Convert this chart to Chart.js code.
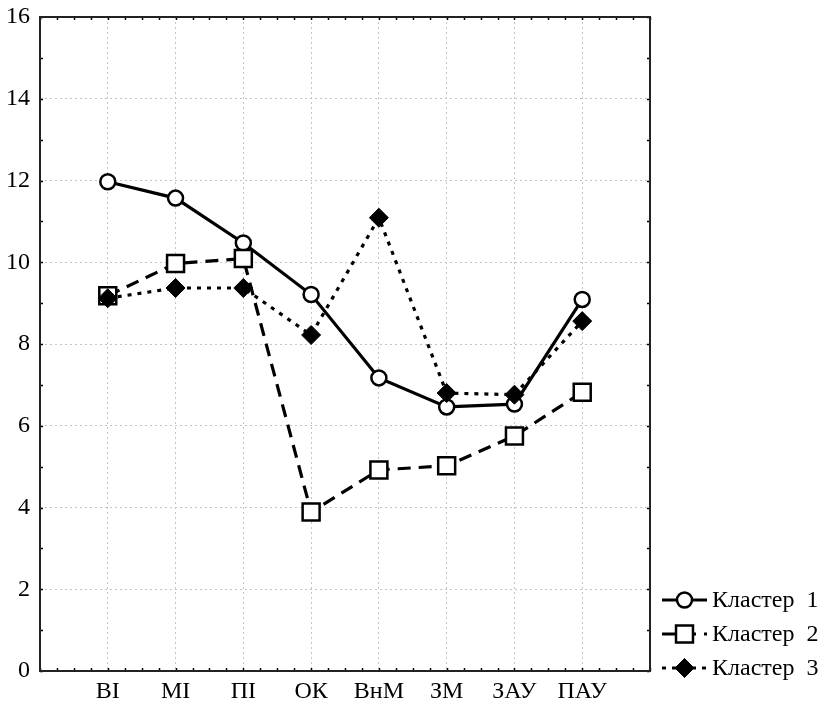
<!DOCTYPE html>
<html lang="uk">
<head>
    <meta charset="UTF-8">
    <title>Кластери</title>
    <script src="https://cdn.jsdelivr.net/npm/chart.js@4.4.0/dist/chart.umd.min.js"></script>
    <style>
        * { margin: 0; padding: 0; box-sizing: border-box; }
        body { background: #fff; }
        .chart-box { width: 832px; height: 711px; position: relative; }
    </style>
</head>
<body>
    <div class="chart-box">
        <canvas id="clusterChart"></canvas>
    </div>

    <script>
        // Data
        const categories = ['ВІ', 'МІ', 'ПІ', 'ОК', 'ВнМ', 'ЗМ', 'ЗАУ', 'ПАУ'];
        const seriesNames = ['Кластер  1', 'Кластер  2', 'Кластер  3'];
        const cluster1 = [11.97, 11.57, 10.47, 9.21, 7.17, 6.46, 6.53, 9.09];
        const cluster2 = [9.18, 9.97, 10.09, 3.89, 4.92, 5.02, 5.75, 6.82];
        const cluster3 = [9.12, 9.37, 9.37, 8.22, 11.09, 6.8, 6.76, 8.56];
        const yTicks = [0, 2, 4, 6, 8, 10, 12, 14, 16];

        const FONT = "'Liberation Serif', 'Times New Roman', serif";
        const GRID = '#c4c4c4';

        const toPoints = arr => arr.map((v, i) => ({ x: i, y: v }));

        // plot frame with small inward ticks, like the original
        const framePlugin = {
            id: 'frame',
            afterDatasetsDraw(chart) {
                const { ctx, chartArea: a, scales } = chart;
                ctx.save();
                ctx.strokeStyle = '#000';
                ctx.lineWidth = 1.5;
                ctx.beginPath();
                for (let v = yTicks[0]; v <= yTicks[yTicks.length - 1]; v += 1) {
                    const y = Math.round(scales.y.getPixelForValue(v)) + 0.5;
                    ctx.moveTo(a.left, y); ctx.lineTo(a.left + 3, y);
                    ctx.moveTo(a.right, y); ctx.lineTo(a.right - 3, y);
                }
                for (let v = scales.x.min; v <= scales.x.max; v += 0.25) {
                    const x = Math.round(scales.x.getPixelForValue(v)) + 0.5;
                    ctx.moveTo(x, a.bottom); ctx.lineTo(x, a.bottom - 3);
                    ctx.moveTo(x, a.top); ctx.lineTo(x, a.top + 3);
                }
                ctx.stroke();
                ctx.lineWidth = 2;
                ctx.strokeStyle = '#222';
                ctx.strokeRect(a.left, a.top, a.right - a.left, a.bottom - a.top);
                ctx.restore();
            }
        };

        function drawMarker(ctx, ds, x, y) {
            const r = ds.pointRadius;
            ctx.beginPath();
            if (ds.pointStyle === 'circle') {
                ctx.arc(x, y, r, 0, Math.PI * 2);
            } else if (ds.pointStyle === 'rect') {
                const s = r * Math.SQRT1_2;
                ctx.rect(x - s, y - s, s * 2, s * 2);
            } else {
                ctx.moveTo(x, y - r); ctx.lineTo(x + r, y);
                ctx.lineTo(x, y + r); ctx.lineTo(x - r, y);
                ctx.closePath();
            }
            ctx.fillStyle = ds.pointBackgroundColor;
            ctx.fill();
            ctx.lineWidth = ds.pointBorderWidth;
            ctx.strokeStyle = ds.pointBorderColor;
            ctx.stroke();
        }

        // legend: short line with marker, then the label
        const legendPlugin = {
            id: 'lineLegend',
            afterDraw(chart) {
                const { ctx } = chart;
                ctx.save();
                chart.data.datasets.forEach((ds, i) => {
                    const y = 600 + i * 34;
                    ctx.beginPath();
                    ctx.setLineDash(ds.borderDash || []);
                    ctx.lineWidth = ds.borderWidth;
                    ctx.strokeStyle = ds.borderColor;
                    ctx.moveTo(662, y); ctx.lineTo(707, y);
                    ctx.stroke();
                    ctx.setLineDash([]);
                    drawMarker(ctx, ds, 684.5, y);
                    ctx.fillStyle = '#000';
                    ctx.font = '24px ' + FONT;
                    ctx.textBaseline = 'middle';
                    ctx.fillText(ds.label, 712, y + 1);
                });
                ctx.restore();
            }
        };

        new Chart(document.getElementById('clusterChart'), {
            type: 'line',
            data: {
                datasets: [
                    {
                        label: seriesNames[0],
                        data: toPoints(cluster1),
                        order: 3,
                        borderColor: '#000',
                        borderWidth: 3.2,
                        pointStyle: 'circle',
                        pointRadius: 7.5,
                        pointBackgroundColor: '#fff',
                        pointBorderColor: '#000',
                        pointBorderWidth: 2.5
                    },
                    {
                        label: seriesNames[1],
                        data: toPoints(cluster2),
                        order: 2,
                        borderColor: '#000',
                        borderWidth: 3.2,
                        borderDash: [13, 8],
                        pointStyle: 'rect',
                        pointRadius: 12,
                        pointBackgroundColor: '#fff',
                        pointBorderColor: '#000',
                        pointBorderWidth: 2.5
                    },
                    {
                        label: seriesNames[2],
                        data: toPoints(cluster3),
                        order: 1,
                        borderColor: '#000',
                        borderWidth: 3.2,
                        borderDash: [4, 6],
                        pointStyle: 'rectRot',
                        pointRadius: 9.5,
                        pointBackgroundColor: '#000',
                        pointBorderColor: '#000',
                        pointBorderWidth: 1
                    }
                ]
            },
            options: {
                responsive: true,
                maintainAspectRatio: false,
                animation: false,
                layout: { padding: { top: 17, right: 182, left: 0, bottom: 0 } },
                plugins: {
                    legend: { display: false },
                    tooltip: { enabled: false }
                },
                elements: { line: { tension: 0, fill: false } },
                scales: {
                    x: {
                        type: 'linear',
                        min: -1,
                        max: categories.length,
                        afterFit: s => { s.height = 40; s.paddingLeft = 0; s.paddingRight = 0; },
                        afterBuildTicks: s => {
                            s.ticks = [];
                            for (let v = -1; v <= categories.length; v++) s.ticks.push({ value: v });
                        },
                        ticks: {
                            autoSkip: false,
                            maxRotation: 0,
                            padding: 6,
                            color: '#000',
                            font: { family: FONT, size: 24 },
                            callback: v => categories[v] ?? ''
                        },
                        grid: {
                            drawTicks: false,
                            lineWidth: 1,
                            color: c => (c.tick && c.tick.value >= 0 && c.tick.value < categories.length) ? GRID : 'transparent'
                        },
                        border: { display: false, dash: [2, 3] }
                    },
                    y: {
                        min: yTicks[0],
                        max: yTicks[yTicks.length - 1],
                        afterFit: s => { s.width = 40; s.paddingTop = 0; s.paddingBottom = 0; },
                        ticks: {
                            stepSize: 2,
                            padding: 10,
                            color: '#000',
                            font: { family: FONT, size: 24 }
                        },
                        grid: {
                            drawTicks: false,
                            lineWidth: 1,
                            color: c => (c.tick && c.tick.value > yTicks[0] && c.tick.value < yTicks[yTicks.length - 1]) ? GRID : 'transparent'
                        },
                        border: { display: false, dash: [2, 3] }
                    }
                }
            },
            plugins: [framePlugin, legendPlugin]
        });
    </script>
</body>
</html>
